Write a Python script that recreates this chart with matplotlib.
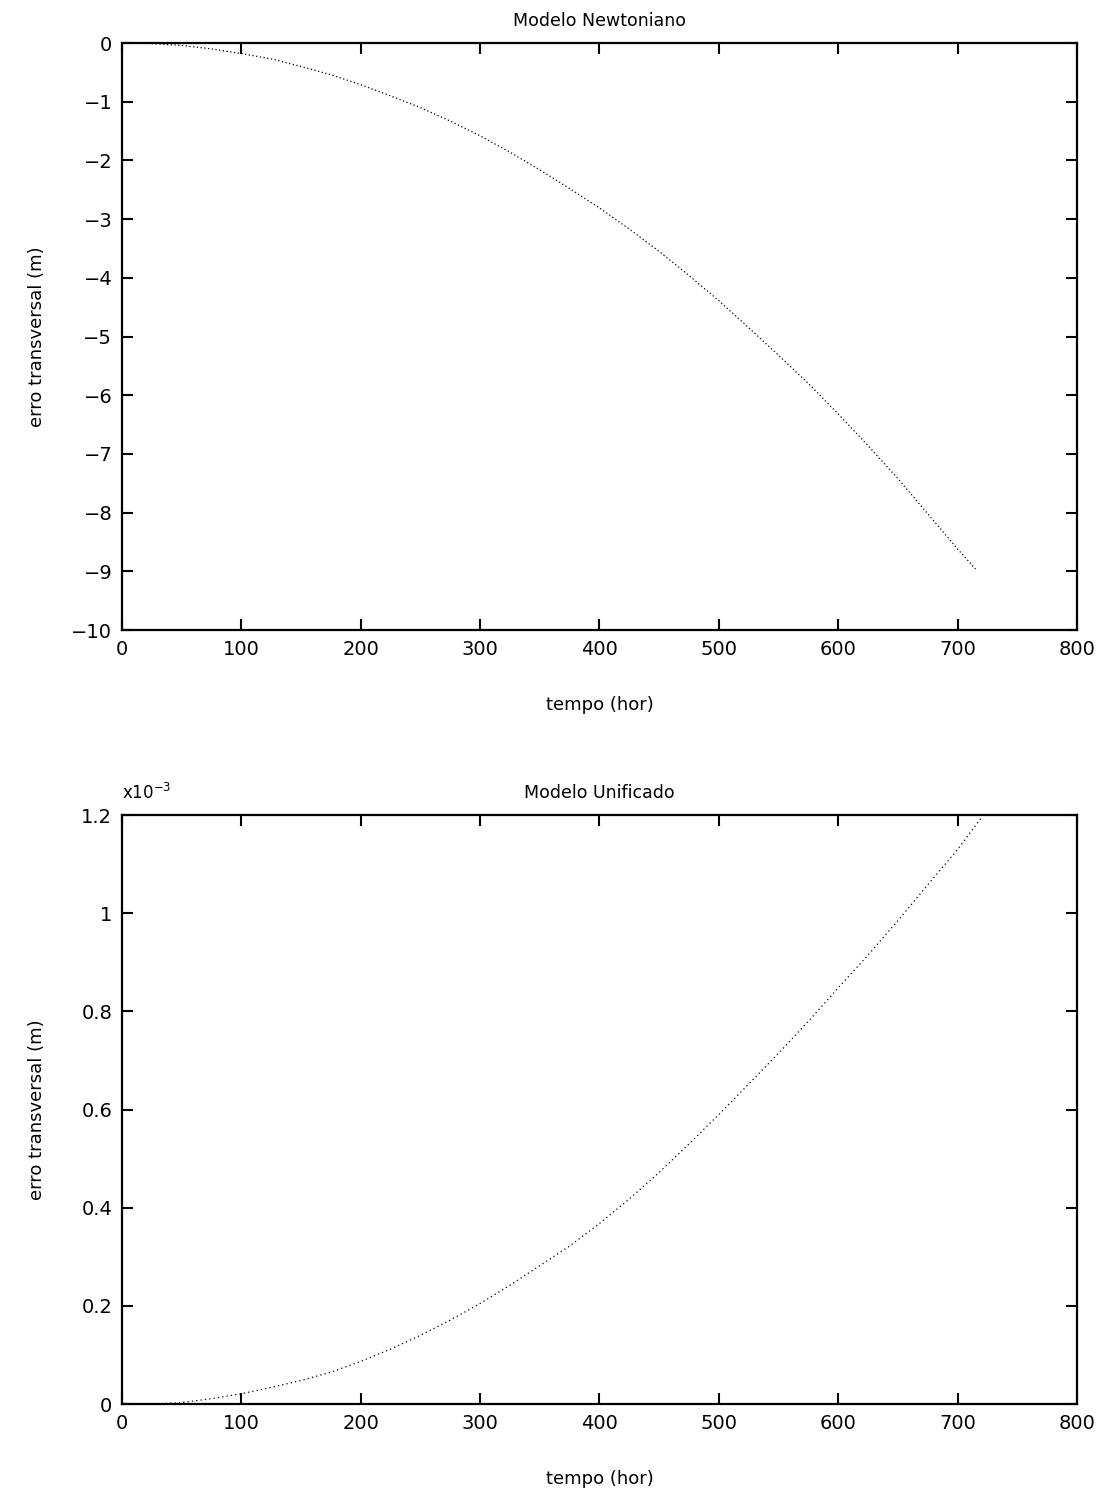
import matplotlib
matplotlib.use("Agg")
import matplotlib.pyplot as plt
from matplotlib.ticker import FixedLocator, FuncFormatter

# ---- data ----
t_newton = [0, 25, 50, 75, 100, 125, 150, 175, 200, 225, 250, 275, 300, 325, 350,
            375, 400, 425, 450, 475, 500, 525, 550, 575, 600, 625, 650, 675, 700, 715]
err_newton = [0.0, -0.01, -0.04, -0.10, -0.18, -0.27, -0.40, -0.54, -0.71, -0.90,
              -1.10, -1.33, -1.58, -1.86, -2.16, -2.48, -2.81, -3.17, -3.55, -3.96,
              -4.39, -4.85, -5.32, -5.80, -6.32, -6.86, -7.42, -8.02, -8.62, -8.96]

t_unif = [0, 25, 50, 75, 100, 125, 150, 175, 200, 225, 250, 275, 300, 325, 350,
          375, 400, 425, 450, 475, 500, 525, 550, 575, 600, 625, 650, 675, 700, 720]
err_unif_e3 = [0.0, 0.0, 0.003, 0.011, 0.021, 0.034, 0.048, 0.065, 0.087, 0.112,
               0.140, 0.171, 0.205, 0.242, 0.282, 0.322, 0.368, 0.418, 0.472, 0.530,
               0.590, 0.652, 0.715, 0.780, 0.848, 0.915, 0.985, 1.058, 1.130, 1.195]

x_ticks = [0, 100, 200, 300, 400, 500, 600, 700, 800]
y_ticks_top = [0, -1, -2, -3, -4, -5, -6, -7, -8, -9, -10]
y_ticks_bot = [0, 0.2, 0.4, 0.6, 0.8, 1.0, 1.2]

title_top = "Modelo Newtoniano"
title_bot = "Modelo Unificado"
xlabel = "tempo (hor)"
ylabel = "erro transversal (m)"

plt.rcParams['font.family'] = ['DejaVu Sans']

fig = plt.figure(figsize=(11.15, 14.94), dpi=100)
ax1 = fig.add_axes([0.1094, 0.5783, 0.8565, 0.3929])
ax2 = fig.add_axes([0.1094, 0.0602, 0.8565, 0.3942])

def style(ax):
    for s in ax.spines.values():
        s.set_linewidth(1.6)
        s.set_color('black')
    ax.tick_params(direction='in', length=8, width=1.5, top=True, right=True,
                   labelsize=14, pad=7, colors='black')
    ax.set_xlim(0, 800)
    ax.xaxis.set_major_locator(FixedLocator(x_ticks))
    ax.set_xlabel(xlabel, fontsize=13, labelpad=27)
    ax.set_ylabel(ylabel, fontsize=13)
    ax.yaxis.set_label_coords(-0.08, 0.5)

ax1.plot(t_newton, err_newton, color='black', lw=0.9, ls=(0, (1, 2)))
style(ax1)
ax1.set_ylim(-10, 0)
ax1.yaxis.set_major_locator(FixedLocator(y_ticks_top))
ax1.yaxis.set_major_formatter(FuncFormatter(lambda v, p: ("\u2212" if v < 0 else "") + "%d" % abs(v)))
ax1.set_title(title_top, fontsize=12.5, pad=12)

ax2.plot(t_unif, err_unif_e3, color='black', lw=0.9, ls=(0, (1, 2.5)))
style(ax2)
ax2.set_ylim(0, 1.2)
ax2.yaxis.set_major_locator(FixedLocator(y_ticks_bot))
ax2.yaxis.set_major_formatter(FuncFormatter(lambda v, p: "0" if v == 0 else ("1" if abs(v - 1) < 1e-9 else "%.1f" % v)))
ax2.set_title(title_bot, fontsize=12.5, pad=12)
ax2.text(0.0, 1.02, "x10$^{-3}$", transform=ax2.transAxes, fontsize=12,
         ha='left', va='bottom')

fig.savefig("out.png", dpi=100, facecolor='white')
